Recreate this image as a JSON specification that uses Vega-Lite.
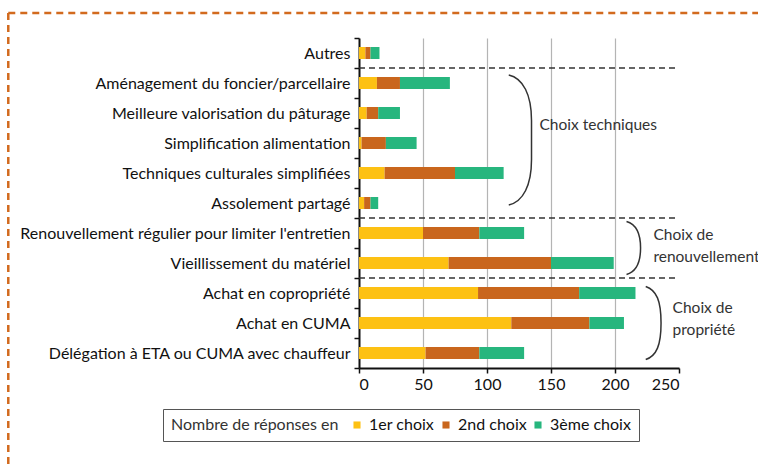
{
  "$schema": "https://vega.github.io/schema/vega-lite/v6.json",
  "width": 320,
  "height": 330,
  "autosize": {"type": "none"},
  "padding": {"left": 359, "top": 38, "right": 79, "bottom": 98},
  "background": "white",
  "config": {
    "font": "Lato",
    "view": {"stroke": null},
    "axis": {"labelFont": "Lato", "labelFontSize": 16, "labelColor": "#111", "domainColor": "#111", "tickColor": "#111"}
  },
  "datasets": {
    "bars": [
      {"cat": "Autres", "choix": "1er choix", "n": 5},
      {"cat": "Autres", "choix": "2nd choix", "n": 4},
      {"cat": "Autres", "choix": "3ème choix", "n": 7},
      {"cat": "Aménagement du foncier/parcellaire", "choix": "1er choix", "n": 14},
      {"cat": "Aménagement du foncier/parcellaire", "choix": "2nd choix", "n": 18},
      {"cat": "Aménagement du foncier/parcellaire", "choix": "3ème choix", "n": 39},
      {"cat": "Meilleure valorisation du pâturage", "choix": "1er choix", "n": 6},
      {"cat": "Meilleure valorisation du pâturage", "choix": "2nd choix", "n": 9},
      {"cat": "Meilleure valorisation du pâturage", "choix": "3ème choix", "n": 17},
      {"cat": "Simplification alimentation", "choix": "1er choix", "n": 2},
      {"cat": "Simplification alimentation", "choix": "2nd choix", "n": 19},
      {"cat": "Simplification alimentation", "choix": "3ème choix", "n": 24},
      {"cat": "Techniques culturales simplifiées", "choix": "1er choix", "n": 20},
      {"cat": "Techniques culturales simplifiées", "choix": "2nd choix", "n": 55},
      {"cat": "Techniques culturales simplifiées", "choix": "3ème choix", "n": 38},
      {"cat": "Assolement partagé", "choix": "1er choix", "n": 4},
      {"cat": "Assolement partagé", "choix": "2nd choix", "n": 5},
      {"cat": "Assolement partagé", "choix": "3ème choix", "n": 6},
      {"cat": "Renouvellement régulier pour limiter l'entretien", "choix": "1er choix", "n": 50},
      {"cat": "Renouvellement régulier pour limiter l'entretien", "choix": "2nd choix", "n": 44},
      {"cat": "Renouvellement régulier pour limiter l'entretien", "choix": "3ème choix", "n": 35},
      {"cat": "Vieillissement du matériel", "choix": "1er choix", "n": 70},
      {"cat": "Vieillissement du matériel", "choix": "2nd choix", "n": 80},
      {"cat": "Vieillissement du matériel", "choix": "3ème choix", "n": 49},
      {"cat": "Achat en copropriété", "choix": "1er choix", "n": 93},
      {"cat": "Achat en copropriété", "choix": "2nd choix", "n": 79},
      {"cat": "Achat en copropriété", "choix": "3ème choix", "n": 44},
      {"cat": "Achat en CUMA", "choix": "1er choix", "n": 119},
      {"cat": "Achat en CUMA", "choix": "2nd choix", "n": 61},
      {"cat": "Achat en CUMA", "choix": "3ème choix", "n": 27},
      {"cat": "Délégation à ETA ou CUMA avec chauffeur", "choix": "1er choix", "n": 52},
      {"cat": "Délégation à ETA ou CUMA avec chauffeur", "choix": "2nd choix", "n": 42},
      {"cat": "Délégation à ETA ou CUMA avec chauffeur", "choix": "3ème choix", "n": 35}
    ]
  },
  "layer": [
    {
      "data": {"name": "bars"},
      "mark": {"type": "bar", "size": 12},
      "encoding": {
        "y": {
          "field": "cat", "type": "nominal", "sort": null, "title": null,
          "scale": {"paddingInner": 0, "paddingOuter": 0, "domain": ["Autres", "Aménagement du foncier/parcellaire", "Meilleure valorisation du pâturage", "Simplification alimentation", "Techniques culturales simplifiées", "Assolement partagé", "Renouvellement régulier pour limiter l'entretien", "Vieillissement du matériel", "Achat en copropriété", "Achat en CUMA", "Délégation à ETA ou CUMA avec chauffeur"]},
          "axis": {"tickBand": "extent", "labelLimit": 400, "labelPadding": 4, "tickSize": 5, "domainWidth": 2, "tickWidth": 1.5}
        },
        "x": {
          "field": "n", "type": "quantitative", "stack": "zero", "title": null,
          "scale": {"domain": [0, 250], "nice": false},
          "axis": {"values": [0, 50, 100, 150, 200, 250], "grid": true, "gridColor": "#b4b4b4", "gridWidth": 1.2,
                   "gridOpacity": {"condition": {"test": "datum.value <= 0 || datum.value >= 250", "value": 0}, "value": 1},
                   "domainWidth": 2, "tickSize": 5, "tickWidth": 1.5, "labelPadding": 3}
        },
        "color": {
          "field": "choix", "type": "nominal",
          "scale": {"domain": ["1er choix", "2nd choix", "3ème choix"], "range": ["#FDC113", "#C9661D", "#27B67E"]},
          "legend": {
            "title": "Nombre de réponses en", "orient": "none", "legendX": -196, "legendY": 371,
            "direction": "horizontal", "titleOrient": "left", "titleFontWeight": "normal", "titleFontSize": 16, "titleFont": "Lato",
            "titleColor": "#333", "labelFontSize": 16, "labelFont": "Lato", "labelColor": "#111", "symbolType": "square", "symbolSize": 50,
            "strokeColor": "#555", "padding": 8, "titlePadding": 10, "columnPadding": 3, "labelOffset": 4, "titleBaseline": "middle"
          }
        },
        "order": {"field": "choix", "sort": "ascending"}
      }
    },
    {
      "data": {"values": [{"c": "Autres"}, {"c": "Assolement partagé"}, {"c": "Vieillissement du matériel"}]},
      "mark": {"type": "rule", "strokeDash": [6, 4], "stroke": "#333", "strokeWidth": 1.3, "yOffset": 15},
      "encoding": {"y": {"field": "c", "type": "nominal"}, "x": {"datum": 0}, "x2": {"datum": 248}}
    },
    {
      "data": {"values": [{"c": "Autres"}]},
      "mark": {"type": "rule", "strokeDash": [7, 5], "stroke": "#D26A1E", "strokeWidth": 2.5, "yOffset": -40},
      "encoding": {"y": {"field": "c", "type": "nominal"}, "x": {"datum": -274}, "x2": {"datum": 312}}
    },
    {
      "data": {"values": [{"c": "Autres", "c2": "Délégation à ETA ou CUMA avec chauffeur"}]},
      "mark": {"type": "rule", "strokeDash": [7, 5], "stroke": "#D26A1E", "strokeWidth": 2.5, "yOffset": -40, "y2Offset": 200},
      "encoding": {"y": {"field": "c", "type": "nominal"}, "y2": {"field": "c2"}, "x": {"datum": -274}}
    },
    {
      "data": {"values": [{"c": "Simplification alimentation"}]},
      "mark": {"type": "point", "filled": false, "stroke": "#333", "strokeWidth": 1.5, "opacity": 1, "size": 16900, "yOffset": -3,
               "shape": "M0,-1C0.22,-0.95 0.35,-0.7 0.35,-0.3L0.35,0.3C0.35,0.7 0.22,0.95 0,1"},
      "encoding": {"y": {"field": "c", "type": "nominal"}, "x": {"datum": 117}}
    },
    {
      "data": {"values": [{"c": "Renouvellement régulier pour limiter l'entretien"}]},
      "mark": {"type": "point", "filled": false, "stroke": "#333", "strokeWidth": 1.5, "opacity": 1, "size": 2809, "yOffset": 15,
               "shape": "M0,-1C0.35,-0.9 0.53,-0.6 0.53,0C0.53,0.6 0.35,0.9 0,1"},
      "encoding": {"y": {"field": "c", "type": "nominal"}, "x": {"datum": 209}}
    },
    {
      "data": {"values": [{"c": "Achat en CUMA"}]},
      "mark": {"type": "point", "filled": false, "stroke": "#333", "strokeWidth": 1.5, "opacity": 1, "size": 5329, "yOffset": 0,
               "shape": "M0,-1C0.3,-0.9 0.42,-0.6 0.42,0C0.42,0.6 0.3,0.9 0,1"},
      "encoding": {"y": {"field": "c", "type": "nominal"}, "x": {"datum": 224}}
    },
    {
      "data": {"values": [
        {"c": "Simplification alimentation", "t": "Choix techniques", "x": 141, "o": -3},
        {"c": "Renouvellement régulier pour limiter l'entretien", "t": "Choix de\nrenouvellement", "x": 230, "o": 17},
        {"c": "Achat en CUMA", "t": "Choix de\npropriété", "x": 245, "o": 0}
      ]},
      "mark": {"type": "text", "align": "left", "baseline": "middle", "fontSize": 15.5, "color": "#333", "lineBreak": "\n", "lineHeight": 22},
      "encoding": {"y": {"field": "c", "type": "nominal"}, "yOffset": {"field": "o", "type": "quantitative", "scale": null}, "x": {"field": "x", "type": "quantitative"}, "text": {"field": "t"}}
    }
  ]
}
